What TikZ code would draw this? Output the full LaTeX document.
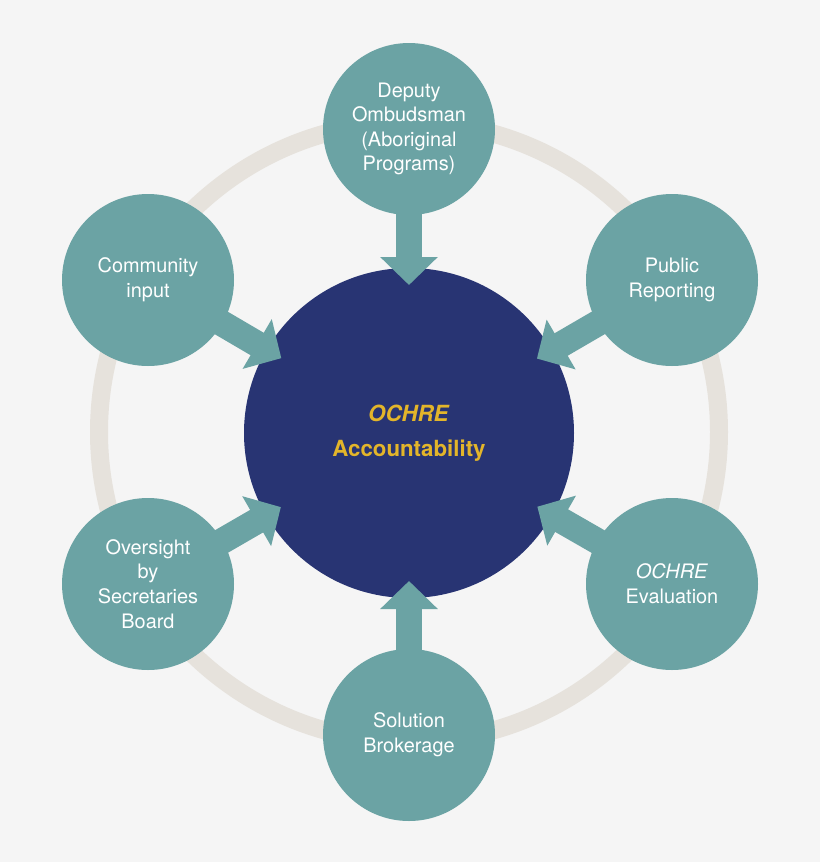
\documentclass[tikz,border=0pt]{standalone}
\usepackage{fontspec}
\setmainfont{TeX Gyre Heros}
\usetikzlibrary{arrows.meta}
\definecolor{teal1}{HTML}{6BA3A4}
\definecolor{navy}{HTML}{283473}
\definecolor{gold}{HTML}{E3B52A}
\definecolor{ringc}{HTML}{E6E2DC}
\definecolor{bg}{HTML}{F5F5F5}
\begin{document}
\begin{tikzpicture}[x=0.03cm,y=-0.03cm,
  outer/.style={circle,fill=teal1,minimum size=172*0.03cm,inner sep=0pt,text=white,align=center,font=\fontsize{17}{21}\selectfont},
  blockarrow/.style={draw=teal1,line width=26*0.03cm,-{Triangle[width=56*0.03cm,length=28*0.03cm]},shorten <=60*0.03cm,shorten >=148*0.03cm}]
\fill[bg] (0,0) rectangle (820,862);
\draw[ringc,line width=18*0.03cm] (409,432) circle (310);
\node[circle,fill=navy,minimum size=330*0.03cm,inner sep=0pt,align=center,text=gold,font=\bfseries\fontsize{19}{30}\selectfont] (c) at (409,433) {\textit{OCHRE}\\Accountability};
\coordinate (a1) at (409,129);
\coordinate (a2) at (148,280);
\coordinate (a3) at (672,280);
\coordinate (a4) at (148,584);
\coordinate (a5) at (672,584);
\coordinate (a6) at (409,735);
\foreach \p in {a1,a2,a3,a4,a5,a6} \draw[blockarrow] (\p) -- (c.center);
\node[outer] (n1) at (a1) {Deputy\\Ombudsman\\(Aboriginal\\Programs)};
\node[outer] (n2) at (a2) {Community\\input};
\node[outer] (n3) at (a3) {Public\\Reporting};
\node[outer] (n4) at (a4) {Oversight\\by\\Secretaries\\Board};
\node[outer] (n5) at (a5) {\textit{OCHRE}\\Evaluation};
\node[outer] (n6) at (a6) {Solution\\Brokerage};
\end{tikzpicture}
\end{document}
